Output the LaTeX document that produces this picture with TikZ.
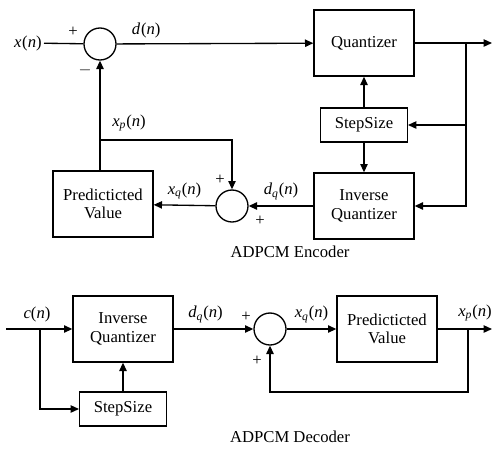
\documentclass[tikz,border=0pt]{standalone}
\usepackage{fontspec}
\setmainfont{Liberation Serif}
\usepackage{tikz}
\usetikzlibrary{positioning, arrows.meta}

% signal names: italic letters, upright brackets
\newcommand{\sig}[2][]{\textit{#2}\textsubscript{\textit{#1}}(\textit{n})}

\begin{document}
\begin{tikzpicture}[
    x=0.6pt, y=-0.6pt, % one unit per pixel of the drawing
    font=\fontsize{10}{11}\selectfont,
    line width=0.8pt,
    box/.style={draw, minimum width=60pt, minimum height=39.6pt, align=center, inner sep=1pt},
    smallbox/.style={draw, minimum width=52pt, minimum height=20.4pt, inner sep=1pt},
    sum/.style={draw, circle, minimum size=19.2pt, inner sep=0pt},
    arrow/.style={-{Triangle[length=5pt, width=4.4pt]}},
    sign/.style={inner sep=0pt, font=\fontsize{10}{11}\selectfont}
]
\useasboundingbox (0,0) rectangle (497,448);

% encoder blocks
\node[box] (quant) at (364,43) {Quantizer};
\node[smallbox] (step) at (364,125) {StepSize};
\node[box] (iquant) at (364,206) {Inverse\\Quantizer};
\node[sum] (sum1) at (100,44) {};
\node[sum] (sum2) at (232,206) {};
\node[box] (pred) at (103,204) {Predicticted\\Value};
\node[anchor=east, inner sep=1pt] (xin) at (44,43) {\sig{x}};
\coordinate (qout) at (492,43);
\coordinate (qtap) at (466,43);
\coordinate (fb) at (100,140);

% encoder connections
\draw (xin) -- (sum1);
\draw[arrow] (sum1) -- node[above, pos=0.15] (dn) {\sig{d}} (quant);
\draw[arrow] (quant) -- (qout);
\draw[arrow] (qtap) |- (iquant.east);
\draw[arrow] (qtap |- step) -- (step.east);
\draw[arrow] (step) -- (quant);
\draw[arrow] (step) -- (iquant);
\draw[arrow] (iquant) -- node[above] (dqn) {\sig[q]{d}} (sum2);
\draw[arrow] (sum2) -- node[above] (xqn) {\sig[q]{x}} (pred);
\draw[arrow] (sum1 |- pred.north) -- (sum1);
\draw[arrow] (fb) -| (sum2);
\node (xpn) at (129,123) {\sig[p]{x}};

% signs at the adders
\node[sign] (s1a) at (73,32) {+};
\node[sign] (s1b) at (85,70) {$-$};
\node[sign] (s2a) at (220,180) {+};
\node[sign] (s2b) at (260,221) {+};

\node (enc) at (290,252) {ADPCM Encoder};

% decoder blocks
\node[box] (diquant) at (123,329) {Inverse\\Quantizer};
\node[smallbox] (dstep) at (123,409) {StepSize};
\node[sum] (sum3) at (270,329) {};
\node[box] (dpred) at (387,329) {Predicticted\\Value};
\coordinate (din) at (6,329);
\coordinate (ctap) at (40,329);
\coordinate (dout) at (492,329);
\coordinate (dtap) at (468,329);

% decoder connections
\draw[arrow] (din) -- (diquant);
\node (cn) at (37,314) {\textit{c}(\textit{n})};
\draw[arrow] (ctap) |- (dstep);
\draw[arrow] (dstep) -- (diquant);
\draw[arrow] (diquant) -- node[above, pos=0.4] (ddqn) {\sig[q]{d}} (sum3);
\draw[arrow] (sum3) -- node[above] (dxqn) {\sig[q]{x}} (dpred);
\draw[arrow] (dpred) -- (dout);
\node (dxpn) at (475,313) {\sig[p]{x}};
\draw[arrow] (dtap) -- ++(0,63) -| (sum3);

\node[sign] (s3a) at (246,317) {+};
\node[sign] (s3b) at (257,361) {+};

\node (dec) at (290,437) {ADPCM Decoder};
\end{tikzpicture}
\end{document}
